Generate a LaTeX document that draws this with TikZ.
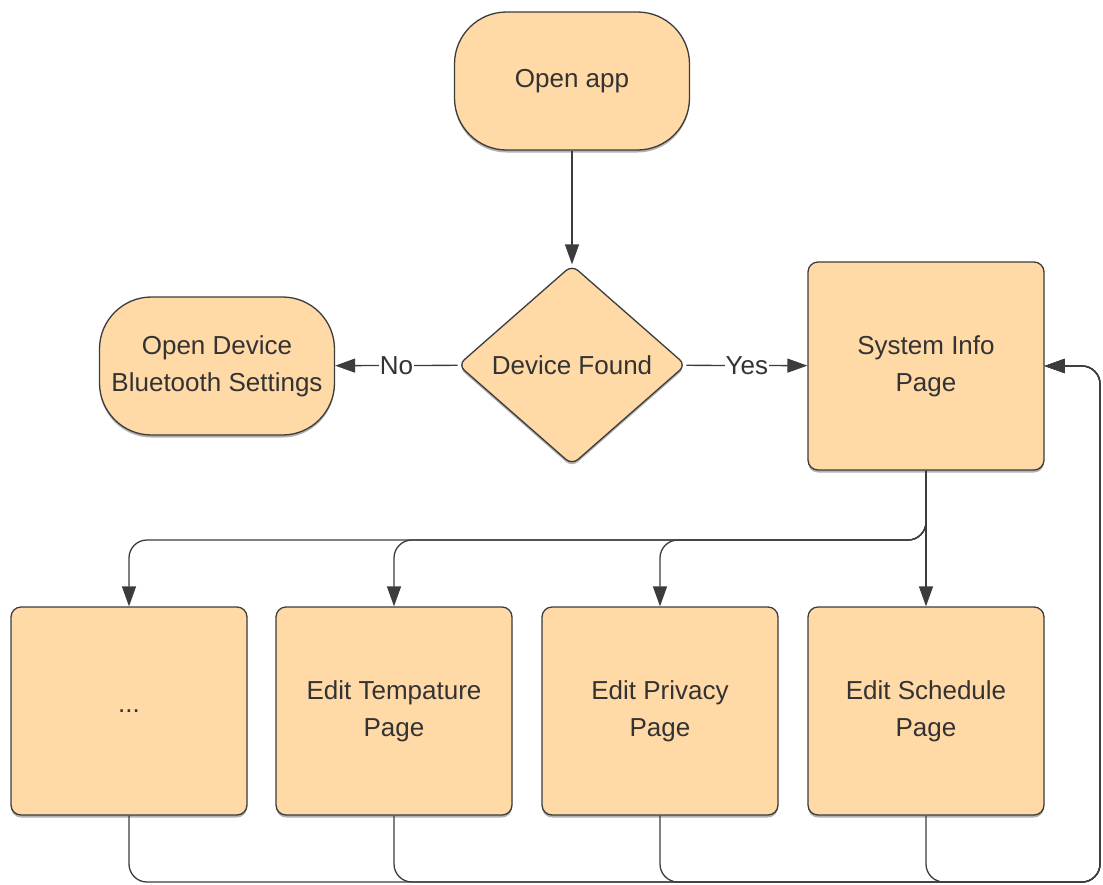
\documentclass[tikz,border=0pt]{standalone}
\usepackage{fontspec}
\setmainfont{Liberation Sans}
\usetikzlibrary{arrows.meta, positioning, shapes.geometric, shadows, calc}
\definecolor{boxFill}{HTML}{FFD9A6}
\definecolor{lineGray}{HTML}{3C3C3C}
\definecolor{textGray}{HTML}{333333}

\begin{document}
\begin{tikzpicture}[x=1pt, y=-1pt,
    base/.style={draw=lineGray, line width=1.3pt, fill=boxFill, text=textGray,
        font=\fontsize{26}{37}\selectfont, align=center,
        drop shadow={shadow xshift=0pt, shadow yshift=-2.5pt, fill=black, opacity=0.3}},
    terminal/.style={base, rounded corners=52pt, minimum width=235pt, minimum height=138pt},
    decision/.style={base, diamond, rounded corners=8pt, minimum width=228pt, minimum height=200pt, inner sep=0pt},
    pagebox/.style={base, rounded corners=10pt, minimum width=236pt, minimum height=208pt},
    flow/.style={draw=lineGray, line width=1.3pt, -{Triangle[length=20pt, width=14pt]}},
    lbl/.style={fill=white, text=textGray, inner sep=1pt, font=\fontsize{26}{30}\selectfont}]

    \useasboundingbox (0,0) rectangle (1103,884);

    % top part
    \node[terminal] (open) at (572,81) {Open app};
    \node[decision] (found) at (572,365) {Device Found};
    \node[terminal] (bt) at (217,366) {Open Device\\Bluetooth Settings};
    \node[pagebox] (sys) at (926,366) {System Info\\Page};

    % pages
    \node[pagebox] (dots) at (129,711) {...};
    \node[pagebox] (temp) at (394,711) {Edit Tempature\\Page};
    \node[pagebox] (priv) at (660,711) {Edit Privacy\\Page};
    \node[pagebox] (sched) at (926,711) {Edit Schedule\\Page};

    \draw[flow] (open) -- (found);
    \draw[flow] (found) -- (bt) node[lbl, midway] {No};
    \draw[flow] (found) -- (sys) node[lbl, midway] {Yes};

    % branches
    \coordinate (bus) at (0,540);
    \draw[flow] (sys) -- (sched);
    \foreach \p in {priv, temp, dots}
        \draw[flow, rounded corners=18pt] (sys.south) |- (bus -| \p.north) -- (\p.north);

    % back to system info
    \coordinate (loop) at (1100,882);
    \foreach \p in {dots, temp, priv, sched}
        \draw[flow, rounded corners=18pt] (\p.south) |- (loop) |- (sys.east);
\end{tikzpicture}
\end{document}
